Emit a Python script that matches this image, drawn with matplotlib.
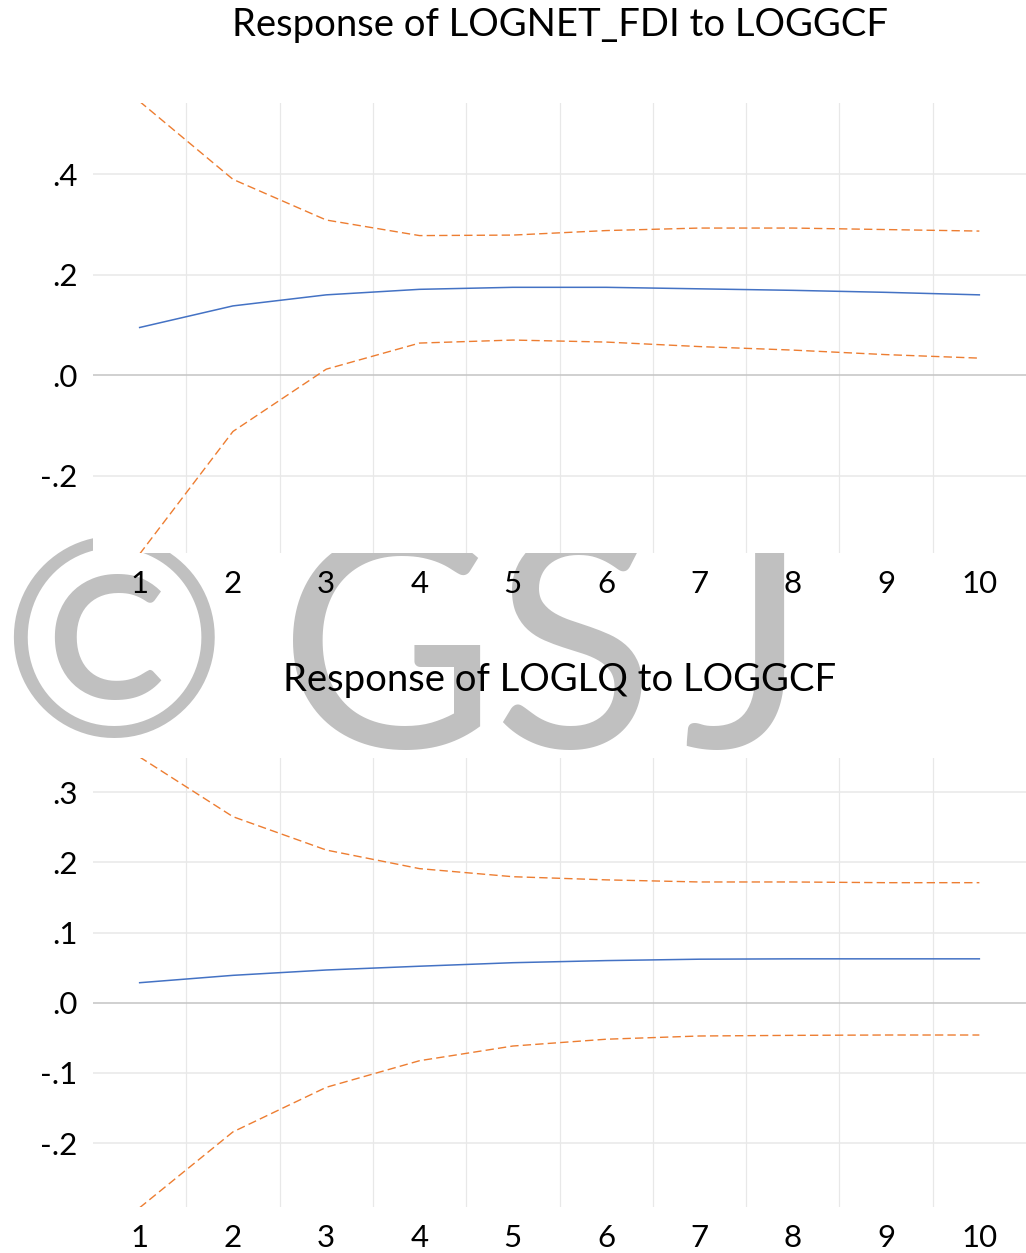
import matplotlib
matplotlib.use("Agg")
import matplotlib.pyplot as plt
import numpy as np

plt.rcParams['font.family'] = ['Lato', 'DejaVu Sans']

periods = [1, 2, 3, 4, 5, 6, 7, 8, 9, 10]
xlabels = ['1', '2', '3', '4', '5', '6', '7', '8', '9', '10']

# Response of LOGNET_FDI to LOGGCF
fdi_resp = [0.095, 0.138, 0.160, 0.171, 0.175, 0.175, 0.172, 0.169, 0.165, 0.160]
fdi_upper = [0.545, 0.390, 0.309, 0.278, 0.279, 0.288, 0.293, 0.293, 0.290, 0.287]
fdi_lower = [-0.356, -0.112, 0.012, 0.064, 0.070, 0.066, 0.057, 0.050, 0.041, 0.034]
fdi_yticks = [-0.2, 0.0, 0.2, 0.4]
fdi_ylabels = ['-.2', '.0', '.2', '.4']

# Response of LOGLQ to LOGGCF
lq_resp = [0.0285, 0.039, 0.0466, 0.052, 0.057, 0.060, 0.062, 0.0625, 0.0625, 0.0625]
lq_upper = [0.350, 0.265, 0.2175, 0.191, 0.1795, 0.175, 0.172, 0.172, 0.171, 0.171]
lq_lower = [-0.292, -0.184, -0.1205, -0.0826, -0.0617, -0.052, -0.0474, -0.0465, -0.046, -0.046]
lq_yticks = [-0.2, -0.1, 0.0, 0.1, 0.2, 0.3]
lq_ylabels = ['-.2', '-.1', '.0', '.1', '.2', '.3']

blue = '#4472C4'
orange = '#ED7D31'
W, H = 1026, 1253

fig = plt.figure(figsize=(10.26, 12.53), dpi=100)

# watermark behind the plot areas
wm = '#c0c0c0'
fig.text(113 / W, 1 - 658 / H, '\u00a9', fontsize=198, color=wm,
         ha='center', va='center', zorder=-5)
for ch, xc in [('G', 388), ('S', 573), ('J', 745)]:
    fig.text(xc / W, 1 - 748 / H, ch, fontsize=215, color=wm,
             ha='center', va='baseline', zorder=-5)


def draw_panel(ax, resp, upper, lower, yticks, ylabels, ylim):
    ax.set_facecolor('white')
    ax.plot(periods, upper, color=orange, lw=1.0, dashes=(6, 3), zorder=3)
    ax.plot(periods, lower, color=orange, lw=1.0, dashes=(6, 3), zorder=3)
    ax.plot(periods, resp, color=blue, lw=1.1, zorder=4)
    ax.set_xlim(0.5, 10.5)
    ax.set_ylim(*ylim)
    ax.set_yticks(yticks)
    ax.set_yticklabels(ylabels)
    ax.set_xticks(periods)
    ax.set_xticklabels(xlabels)
    for xv in np.arange(1.5, 10.5, 1.0):
        ax.axvline(xv, color='#e8e8e8', lw=0.9, zorder=1)
    for yv in yticks:
        if yv != 0:
            ax.axhline(yv, color='#e8e8e8', lw=1.1, zorder=1)
    ax.axhline(0, color='#c4c4c4', lw=1.1, zorder=2)
    for s in ax.spines.values():
        s.set_visible(False)
    ax.tick_params(axis='both', length=0, labelsize=22.5, colors='black')
    ax.tick_params(axis='x', pad=12)
    ax.tick_params(axis='y', pad=11)


ax1 = fig.add_axes([93 / W, 1 - 553 / H, 933 / W, 450 / H])
draw_panel(ax1, fdi_resp, fdi_upper, fdi_lower, fdi_yticks, fdi_ylabels, (-0.354, 0.542))

ax2 = fig.add_axes([93 / W, 1 - 1207 / H, 933 / W, 449 / H])
draw_panel(ax2, lq_resp, lq_upper, lq_lower, lq_yticks, lq_ylabels, (-0.291, 0.3486))

fig.text(560 / W, 1 - 25 / H, 'Response of LOGNET_FDI to LOGGCF',
         fontsize=27.5, ha='center', va='center')
fig.text(560 / W, 1 - 680 / H, 'Response of LOGLQ to LOGGCF',
         fontsize=27.5, ha='center', va='center')

fig.savefig('out.png', dpi=100)
